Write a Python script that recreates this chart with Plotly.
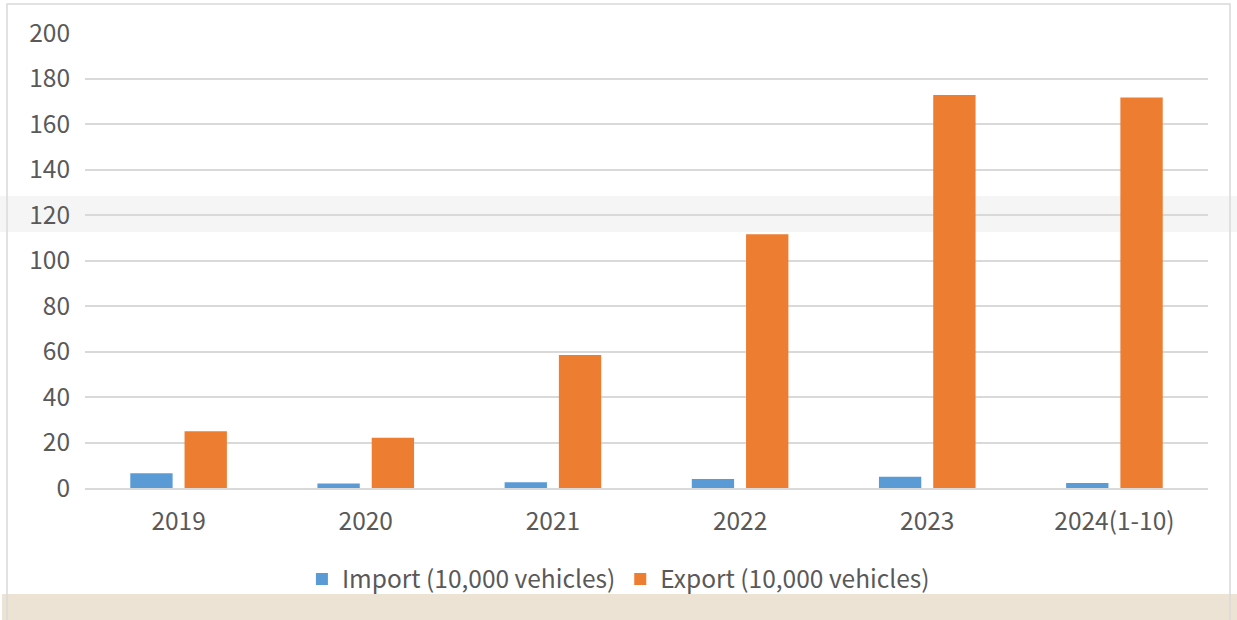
import plotly.graph_objects as go

years = ["2019", "2020", "2021", "2022", "2023", "2024(1-10)"]
imports = [6.5, 2.0, 2.5, 4.0, 5.0, 2.2]
exports = [25.0, 22.1, 58.5, 111.5, 172.7, 171.6]
y_ticks = [0, 20, 40, 60, 80, 100, 120, 140, 160, 180, 200]

W, H = 1237, 620
L, R, T, B = 85, 1208, 33, 488  # plot area in px
pw, ph = R - L, B - T

def px_x(x):
    return (x - L) / pw

def px_y(y):
    return (B - y) / ph

font = "Noto Sans CJK SC, Source Sans Pro, Noto Sans, sans-serif"
gray = "#595959"
fs = 24.5

fig = go.Figure()
fig.add_trace(go.Bar(x=years, y=imports, name="Import (10,000 vehicles)",
                     marker=dict(color="#5B9BD5", line=dict(width=0))))
fig.add_trace(go.Bar(x=years, y=exports, name="Export (10,000 vehicles)",
                     marker=dict(color="#ED7D31", line=dict(width=0))))

shapes = [
    dict(type="rect", xref="paper", yref="paper", x0=px_x(0), x1=px_x(W),
         y0=px_y(232), y1=px_y(196), fillcolor="#f5f5f5", line=dict(width=0), layer="below"),
    dict(type="rect", xref="paper", yref="paper", x0=px_x(2), x1=px_x(W),
         y0=px_y(H + 2), y1=px_y(594), fillcolor="#ece3d5", line=dict(width=0), layer="below"),
    dict(type="rect", xref="paper", yref="paper", x0=px_x(7), x1=px_x(1230),
         y0=px_y(H + 5), y1=px_y(4), fillcolor="rgba(0,0,0,0)",
         line=dict(color="#d9d9d9", width=1.5), layer="below"),
]

fig.update_layout(
    width=W, height=H,
    margin=dict(l=L, r=W - R, t=T, b=H - B),
    paper_bgcolor="white", plot_bgcolor="rgba(0,0,0,0)",
    barmode="group", bargap=0.42, bargroupgap=0.22,
    font=dict(family=font, size=fs, color=gray),
    showlegend=True,
    legend=dict(orientation="h", x=0.475, xanchor="center", y=px_y(579), yanchor="middle",
                font=dict(family=font, size=fs, color=gray), bgcolor="rgba(0,0,0,0)",
                traceorder="normal"),
    shapes=shapes,
    xaxis=dict(type="category", showgrid=False, zeroline=False, showline=True,
               linecolor="#d9d9d9", linewidth=1.5, ticks="", ticklabelstandoff=11,
               tickfont=dict(family=font, size=fs, color=gray)),
    yaxis=dict(range=[0, 200], tickvals=y_ticks, showgrid=True, gridcolor="#d9d9d9",
               gridwidth=1.5, zeroline=False, showline=False, ticks="",
               ticklabelstandoff=14, tickfont=dict(family=font, size=fs, color=gray)),
)

fig.write_html("out.html", config={"displayModeBar": False},
               post_script="document.body.style.margin='0';document.body.style.overflow='hidden';")
